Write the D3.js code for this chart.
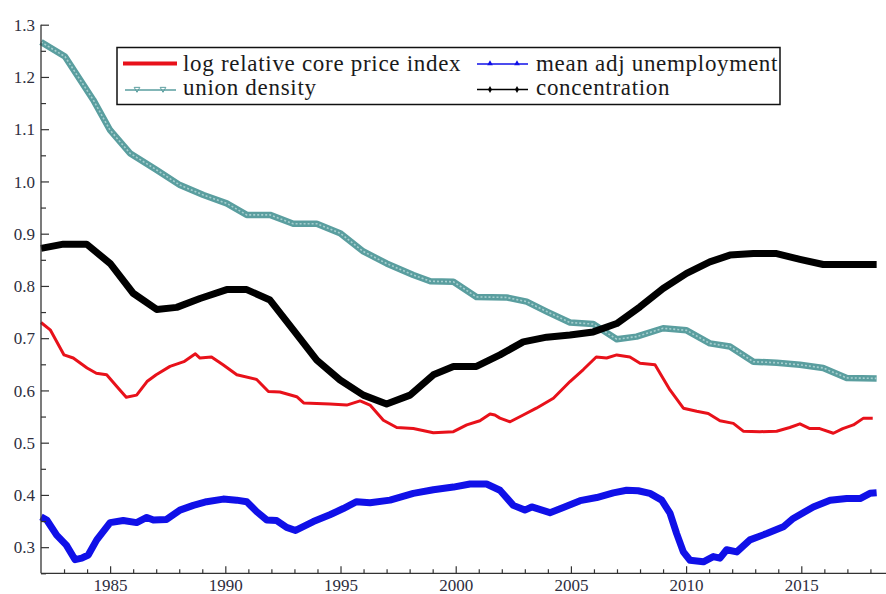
<!DOCTYPE html>
<html><head><meta charset="utf-8">
<script src="https://cdn.jsdelivr.net/npm/d3@7/dist/d3.min.js"></script>
<style>body{margin:0;background:#fff}svg{display:block}</style>
</head><body>
<svg id="c" width="886" height="594"></svg>
<script>
// ---- data ----
const seriesNames = ["log relative core price index","mean adj unemployment","union density","concentration"];

const priceYears = [1982.0,1982.4,1983.0,1983.4,1984.0,1984.4,1984.85,1985.3,1985.7,1986.15,1986.6,1987.0,1987.6,1988.2,1988.7,1988.9,1989.4,1989.9,1990.5,1991.36,1991.87,1992.37,1993.1,1993.4,1994.54,1995.27,1995.85,1996.28,1996.86,1997.44,1998.16,1999.03,1999.9,2000.48,2001.05,2001.49,2001.7,2001.92,2002.36,2002.93,2003.5,2004.24,2004.96,2005.54,2006.1,2006.55,2006.99,2007.56,2008.0,2008.65,2009.3,2009.88,2010.46,2010.96,2011.47,2012.05,2012.48,2013.2,2013.93,2014.5,2014.94,2015.37,2015.8,2016.39,2016.8,2017.26,2017.7,2018.1];
const priceVals = [0.730,0.716,0.668,0.662,0.643,0.633,0.630,0.607,0.587,0.591,0.617,0.630,0.646,0.655,0.670,0.662,0.664,0.649,0.630,0.621,0.598,0.597,0.588,0.576,0.574,0.572,0.580,0.572,0.543,0.529,0.527,0.519,0.521,0.534,0.542,0.555,0.553,0.547,0.540,0.553,0.566,0.585,0.617,0.640,0.664,0.662,0.668,0.664,0.652,0.649,0.601,0.566,0.560,0.556,0.542,0.537,0.522,0.521,0.522,0.529,0.536,0.527,0.527,0.518,0.527,0.534,0.547,0.547];

const unempYears = [1982.0,1982.25,1982.68,1983.1,1983.48,1983.77,1984.05,1984.42,1985.0,1985.57,1986.15,1986.59,1986.88,1987.45,1988.03,1988.61,1989.19,1989.91,1990.49,1990.93,1991.36,1991.8,1992.23,1992.66,1993.05,1993.82,1994.54,1995.12,1995.7,1996.28,1997.15,1998.16,1999.03,1999.9,2000.62,2001.34,2001.92,2002.5,2003.0,2003.3,2004.09,2004.67,2005.4,2006.12,2006.84,2007.42,2007.92,2008.43,2008.94,2009.3,2009.59,2009.88,2010.17,2010.75,2011.18,2011.47,2011.76,2012.2,2012.77,2013.5,2014.22,2014.65,2015.52,2016.25,2016.97,2017.55,2017.98,2018.27];
const unempVals = [0.358,0.352,0.323,0.304,0.276,0.279,0.285,0.314,0.347,0.351,0.347,0.357,0.352,0.353,0.371,0.380,0.387,0.392,0.390,0.387,0.368,0.352,0.351,0.338,0.332,0.349,0.362,0.374,0.387,0.385,0.390,0.403,0.410,0.415,0.421,0.421,0.409,0.380,0.371,0.377,0.366,0.376,0.389,0.395,0.404,0.409,0.408,0.403,0.390,0.365,0.326,0.291,0.275,0.272,0.282,0.279,0.295,0.291,0.314,0.326,0.339,0.355,0.377,0.390,0.393,0.393,0.403,0.404];

const unionYears = [1982.0,1983.04,1984.27,1985.0,1985.86,1987.02,1988.03,1989.05,1990.06,1990.93,1991.94,1992.95,1993.97,1994.98,1995.99,1997.0,1998.16,1998.9,1999.9,2000.9,2002.2,2003.08,2003.95,2004.96,2005.97,2006.99,2007.85,2009.0,2010.02,2011.03,2011.9,2012.92,2013.93,2014.94,2015.95,2016.97,2018.27];
const unionVals = [1.267,1.239,1.156,1.098,1.054,1.022,0.993,0.974,0.958,0.936,0.936,0.919,0.919,0.901,0.866,0.843,0.821,0.809,0.808,0.779,0.778,0.770,0.751,0.730,0.727,0.698,0.703,0.719,0.715,0.690,0.684,0.655,0.653,0.649,0.643,0.624,0.623];

const concYears = [1982.0,1982.97,1983.98,1985.0,1986.0,1987.02,1987.89,1988.9,1990.06,1990.93,1991.94,1992.95,1993.97,1994.98,1995.99,1997.0,1998.02,1999.03,1999.9,2000.9,2001.92,2002.93,2003.95,2004.96,2005.97,2006.99,2008.0,2009.0,2010.02,2011.03,2011.9,2012.92,2013.93,2014.94,2015.95,2018.27];
const concVals = [0.872,0.880,0.880,0.843,0.786,0.755,0.759,0.776,0.793,0.793,0.773,0.716,0.658,0.620,0.591,0.574,0.591,0.630,0.646,0.646,0.668,0.693,0.702,0.706,0.712,0.728,0.760,0.795,0.824,0.846,0.859,0.862,0.862,0.851,0.841,0.841];

const yTicks = [0.3,0.4,0.5,0.6,0.7,0.8,0.9,1.0,1.1,1.2,1.3];
const xTicks = [1985,1990,1995,2000,2005,2010,2015];

// ---- drawing ----
const svg = d3.select("#c");
const x = d3.scaleLinear().domain([1982, 2018.75]).range([41, 887.7]);
const y = d3.scaleLinear().domain([0.25, 1.3]).range([573.3, 24.7]);
const axisColor = "#333";
const font = "Liberation Serif, DejaVu Serif, serif";

function zip(xs, vs){ return xs.map((d,i)=>[d, vs[i]]); }
const line = d3.line().x(d=>x(d[0])).y(d=>y(d[1])).curve(d3.curveLinear);

const g = svg.append("g");
// union density: thick teal band with lighter core
g.append("path").datum(zip(unionYears, unionVals)).attr("d", line)
  .attr("fill","none").attr("stroke","#5a9e9f").attr("stroke-width",6.5).attr("stroke-linejoin","round");
g.append("path").datum(zip(unionYears, unionVals)).attr("d", line)
  .attr("fill","none").attr("stroke","#a6cfcf").attr("stroke-width",1.6).attr("stroke-dasharray","2,2");
// concentration
g.append("path").datum(zip(concYears, concVals)).attr("d", line)
  .attr("fill","none").attr("stroke","#000").attr("stroke-width",7).attr("stroke-linejoin","round");
// price
g.append("path").datum(zip(priceYears, priceVals)).attr("d", line)
  .attr("fill","none").attr("stroke","#e8111a").attr("stroke-width",3).attr("stroke-linejoin","round");
// unemployment
g.append("path").datum(zip(unempYears, unempVals)).attr("d", line)
  .attr("fill","none").attr("stroke","#1010e8").attr("stroke-width",7).attr("stroke-linejoin","round");

// axes
const yAxis = d3.axisRight(y).tickValues(yTicks).tickSize(8).tickFormat(d3.format(".1f"));
const yMinor = d3.axisRight(y).tickValues(d3.range(0.25,1.3,0.1).map(v=>+v.toFixed(2))).tickSize(5).tickFormat("");
const ya = svg.append("g").attr("transform","translate(41,0)").call(yAxis);
svg.append("g").attr("transform","translate(41,0)").call(yMinor).call(s=>s.select(".domain").remove());
ya.selectAll("text").attr("x",-6).attr("text-anchor","end").attr("dy","0.34em");

const xAxis = d3.axisTop(x).tickValues(xTicks).tickSize(7).tickFormat(d3.format("d"));
const xMinor = d3.axisTop(x).tickValues(d3.range(1983,2019).filter(v=>v%5!==0)).tickSize(4).tickFormat("");
const xa = svg.append("g").attr("transform","translate(0,573.3)").call(xAxis);
svg.append("g").attr("transform","translate(0,573.3)").call(xMinor).call(s=>s.select(".domain").remove());
xa.selectAll("text").attr("y",17.5).attr("dy",0);

svg.selectAll(".domain").attr("stroke",axisColor).attr("stroke-width",1.3);
svg.selectAll(".tick line").attr("stroke",axisColor).attr("stroke-width",1.2);
svg.selectAll("g").attr("font-family",font);
svg.selectAll(".tick text").attr("fill","#2e2e3e").attr("font-family",font).style("font-size","17px");
// explicit spines (no outer ticks)
ya.select(".domain").attr("d", `M0,${y(1.3)}V${y(0.25)}`);
xa.select(".domain").attr("d", `M${x(1982)},0H886`);

// legend
const lg = svg.append("g");
lg.append("rect").attr("x",117).attr("y",47.5).attr("width",663).attr("height",57)
  .attr("fill","#fff").attr("stroke","#111").attr("stroke-width",1.5);
const lt = (tx, ty, t) => lg.append("text").attr("x",tx).attr("y",ty).text(t)
  .attr("fill","#1a1a1a").attr("font-family",font).style("font-size","23px").style("letter-spacing","0.7px");
// red
lg.append("line").attr("x1",123).attr("x2",177).attr("y1",63.5).attr("y2",63.5).attr("stroke","#e8111a").attr("stroke-width",4);
lt(183, 71, seriesNames[0]);
// union
lg.append("line").attr("x1",125).attr("x2",176).attr("y1",90).attr("y2",90).attr("stroke","#5a9e9f").attr("stroke-width",1.3);
[137,163].forEach(mx=>lg.append("path").attr("d",d3.symbol(d3.symbolTriangle,14)())
  .attr("transform",`translate(${mx},89) rotate(180)`).attr("fill","none").attr("stroke","#5a9e9f").attr("stroke-width",1));
lt(183, 95, seriesNames[2]);
// unemployment
lg.append("line").attr("x1",477).attr("x2",528).attr("y1",64).attr("y2",64).attr("stroke","#1010e8").attr("stroke-width",1.3);
[490,517].forEach(mx=>lg.append("path").attr("d",d3.symbol(d3.symbolTriangle,14)())
  .attr("transform",`translate(${mx},63.5)`).attr("fill","#1010e8"));
lt(536, 71, seriesNames[1]);
// concentration
lg.append("line").attr("x1",477).attr("x2",528).attr("y1",89.5).attr("y2",89.5).attr("stroke","#000").attr("stroke-width",1.3);
[490,517].forEach(mx=>lg.append("path").attr("d",d3.symbol(d3.symbolDiamond,14)())
  .attr("transform",`translate(${mx},89.5)`).attr("fill","#000"));
lt(536, 95, seriesNames[3]);
</script>
</body></html>
